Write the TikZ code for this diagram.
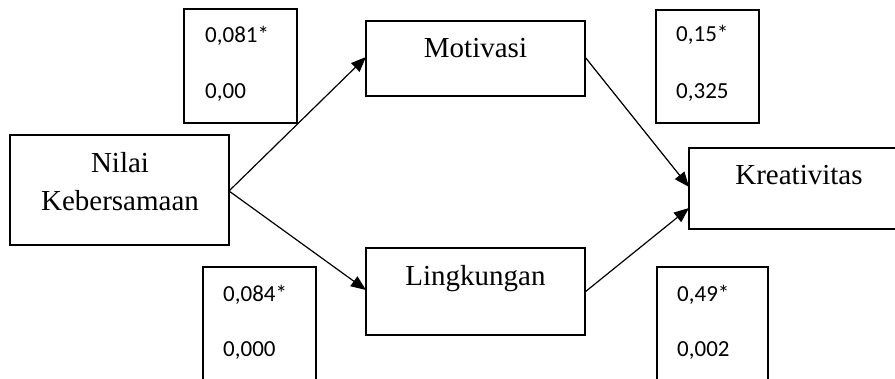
\documentclass[tikz,border=0pt]{standalone}
\usepackage{fontspec}
\setmainfont{Liberation Serif}
\newfontfamily\numfont{Carlito}
\usetikzlibrary{arrows.meta}
\begin{document}
\begin{tikzpicture}[x=1pt,y=-1pt,
  box/.style={draw,line width=1.2pt,inner sep=0pt},
  title/.style={font=\fontsize{29}{38}\selectfont,inner sep=0pt,anchor=base},
  num/.style={font=\numfont\fontsize{23}{28}\selectfont,inner sep=0pt,anchor=base west},
  arr/.style={line width=1.2pt,-{Triangle[length=15pt,width=12pt]}}]
\useasboundingbox (0,0) rectangle (895,379);
\clip (0,0) rectangle (895,379);
% boxes
\draw[box] (184,9) rectangle (297,123);
\draw[box] (656,10) rectangle (759,123);
\draw[box] (203,267) rectangle (316,400);
\draw[box] (657,267) rectangle (768,400);
\draw[box] (10,135) rectangle (229,245);
\draw[box] (366,21) rectangle (585,96);
\draw[box] (366,248) rectangle (585,335);
\draw[box] (689,148) rectangle (905,229);
% titles
\node[title] (nilai) at (120,173) {Nilai};
\node[title] (keb) at (120,211) {Kebersamaan};
\node[title] (mot) at (475.5,58) {Motivasi};
\node[title] (ling) at (475.5,286) {Lingkungan};
\node[title] (kre) at (799,185) {Kreativitas};
% numbers
\node[num] (a1) at (205,43) {0,081*};
\node[num] (a2) at (205,99) {0,00};
\node[num] (b1) at (676,42) {0,15*};
\node[num] (b2) at (676,99) {0,325};
\node[num] (c1) at (223,302) {0,084*};
\node[num] (c2) at (223,357) {0,000};
\node[num] (d1) at (677,302) {0,49*};
\node[num] (d2) at (677,357) {0,002};
% connector points
\coordinate (nE) at (229,191);
\coordinate (mW) at (366,57);
\coordinate (lW) at (366,290);
\coordinate (mE) at (585,57);
\coordinate (lE) at (585,292);
\coordinate (k1) at (689,187);
\coordinate (k2) at (689,208);
\draw[arr] (nE) -- (mW);
\draw[arr] (nE) -- (lW);
\draw[arr] (mE) -- (k1);
\draw[arr] (lE) -- (k2);
\end{tikzpicture}
\end{document}
